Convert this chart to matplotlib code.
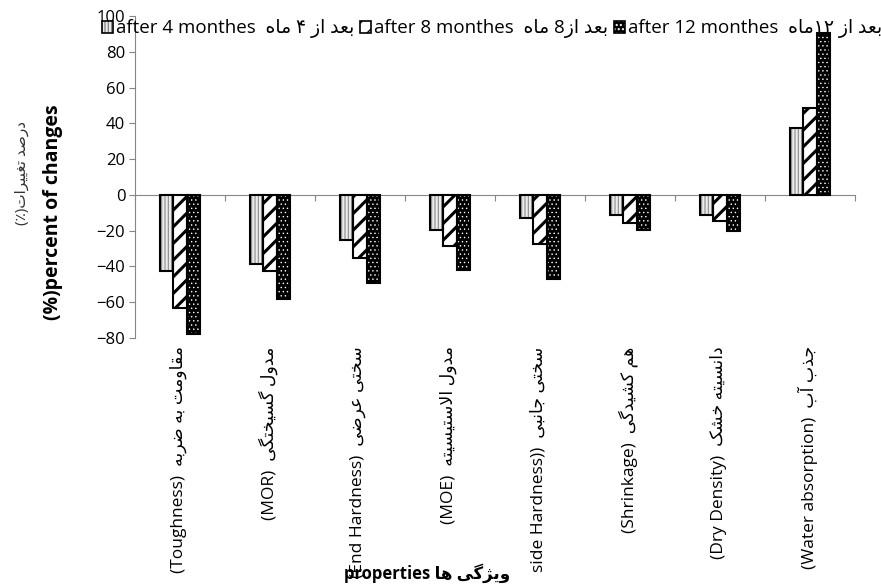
import re
import matplotlib
matplotlib.use("Agg")
import matplotlib.pyplot as plt
from matplotlib.patches import Patch
from matplotlib.legend_handler import HandlerTuple

plt.rcParams['font.family'] = ['Open Sans', 'DejaVu Sans']

# ---------------- data ----------------
categories_en = ["(Toughness)", "(MOR)", "(End Hardness)", "(MOE)",
                 "side Hardness))", "(Shrinkage)", "(Dry Density)", "(Water absorption)"]
categories_fa = ["مقاومت به ضربه", "مدول گسیختگی", "سختی عرضی", "مدول الاستیسیته",
                 "سختی جانبی", "هم کشیدگی", "دانسیته خشک", "جذب آب"]
after_4 = [-42.5, -38.8, -25.4, -19.6, -12.7, -11.2, -11.2, 37.4]
after_8 = [-63.4, -42.3, -35.2, -28.5, -27.4, -15.9, -14.3, 48.4]
after_12 = [-77.8, -58.2, -49.4, -42.0, -47.0, -19.6, -20.0, 90.5]
series_en = ["after 4 monthes", "after 8 monthes", "after 12 monthes"]
series_fa = ["بعد از ۴ ماه", "بعد از8 ماه", "بعد از ۱۲ماه"]
y_ticks = [-80, -60, -40, -20, 0, 20, 40, 60, 80, 100]
ylabel_en = "(%)percent of changes"
ylabel_fa = "درصد تغییرات(٪)"
xlabel_en = "properties"
xlabel_fa = "ویژگی ها"

# ------------- simple Persian shaping (presentation forms, visual order) -------------
FORMS = {
    'ا': (0xFE8D, 0xFE8E, None, None), 'آ': (0xFE81, 0xFE82, None, None),
    'ب': (0xFE8F, 0xFE90, 0xFE91, 0xFE92), 'ت': (0xFE95, 0xFE96, 0xFE97, 0xFE98),
    'ج': (0xFE9D, 0xFE9E, 0xFE9F, 0xFEA0), 'خ': (0xFEA5, 0xFEA6, 0xFEA7, 0xFEA8),
    'د': (0xFEA9, 0xFEAA, None, None), 'ذ': (0xFEAB, 0xFEAC, None, None),
    'ر': (0xFEAD, 0xFEAE, None, None), 'ز': (0xFEAF, 0xFEB0, None, None),
    'ژ': (0xFB8A, 0xFB8B, None, None),
    'س': (0xFEB1, 0xFEB2, 0xFEB3, 0xFEB4), 'ش': (0xFEB5, 0xFEB6, 0xFEB7, 0xFEB8),
    'ص': (0xFEB9, 0xFEBA, 0xFEBB, 0xFEBC), 'ض': (0xFEBD, 0xFEBE, 0xFEBF, 0xFEC0),
    'ع': (0xFEC9, 0xFECA, 0xFECB, 0xFECC), 'غ': (0xFECD, 0xFECE, 0xFECF, 0xFED0),
    'ق': (0xFED5, 0xFED6, 0xFED7, 0xFED8),
    'ک': (0xFB8E, 0xFB8F, 0xFB90, 0xFB91), 'ك': (0xFED9, 0xFEDA, 0xFEDB, 0xFEDC),
    'گ': (0xFB92, 0xFB93, 0xFB94, 0xFB95),
    'ل': (0xFEDD, 0xFEDE, 0xFEDF, 0xFEE0), 'م': (0xFEE1, 0xFEE2, 0xFEE3, 0xFEE4),
    'ن': (0xFEE5, 0xFEE6, 0xFEE7, 0xFEE8), 'ه': (0xFEE9, 0xFEEA, 0xFEEB, 0xFEEC),
    'و': (0xFEED, 0xFEEE, None, None),
    'ی': (0xFBFC, 0xFBFD, 0xFBFE, 0xFBFF), 'ي': (0xFEF1, 0xFEF2, 0xFEF3, 0xFEF4),
}
LAMALEF = {'ا': (0xFEFB, 0xFEFC), 'آ': (0xFEF5, 0xFEF6)}


def shape(s):
    res, i, n = [], 0, len(s)
    while i < n:
        c = s[i]
        if c not in FORMS:
            res.append(c)
            i += 1
            continue
        prev_join = i > 0 and s[i - 1] in FORMS and FORMS[s[i - 1]][2] is not None
        if c == 'ل' and i + 1 < n and s[i + 1] in LAMALEF:
            lig = LAMALEF[s[i + 1]]
            res.append(chr(lig[1] if prev_join else lig[0]))
            i += 2
            continue
        f = FORMS[c]
        next_join = f[2] is not None and i + 1 < n and s[i + 1] in FORMS
        if prev_join and next_join:
            g = f[3]
        elif prev_join:
            g = f[1]
        elif next_join:
            g = f[2]
        else:
            g = f[0]
        res.append(chr(g))
        i += 1
    return ''.join(res)


def fa(s):
    tokens = re.findall(r'[0-9\u06F0-\u06F9]+|.', shape(s), flags=re.S)
    mirror = {'(': ')', ')': '('}
    return ''.join(mirror.get(t, t) for t in reversed(tokens))


# ---------------- figure ----------------
W, H = 881, 585
fig = plt.figure(figsize=(W / 100, H / 100), dpi=100)
ax = fig.add_axes([135 / W, 1 - 338 / H, 720 / W, (338 - 16.25) / H])

n = len(categories_en)
x = list(range(n))
bw = 0.148

styles = [
    dict(face='#ececec', hatchcolor='#8a8a8a', hatch='|||||', hlw=0.8),
    dict(face='white', hatchcolor='black', hatch='//', hlw=2.2),
    dict(face='black', hatchcolor='white', hatch='....', hlw=0.5),
]
series_vals = [after_4, after_8, after_12]

handles = []
for k, (vals, st) in enumerate(zip(series_vals, styles)):
    xs = [xi + (k - 1) * bw for xi in x]
    with plt.rc_context({'hatch.linewidth': st['hlw']}):
        ax.bar(xs, vals, width=bw, facecolor=st['face'], edgecolor=st['hatchcolor'],
               hatch=st['hatch'], linewidth=0, zorder=2)
        hp = Patch(facecolor=st['face'], edgecolor=st['hatchcolor'], hatch=st['hatch'], linewidth=0)
    ax.bar(xs, vals, width=bw, fill=False, edgecolor='black', linewidth=1.5, zorder=3)
    op = Patch(fill=False, edgecolor='black', linewidth=1.2)
    handles.append((hp, op))

ax.set_xlim(-0.5, n - 0.5)
ax.set_ylim(-80, 100)
ax.set_yticks(y_ticks)
ax.set_xticks([i - 0.5 for i in range(n + 1)])
ax.set_xticklabels([])

gray = '#868686'
for s in ['top', 'right']:
    ax.spines[s].set_visible(False)
ax.spines['bottom'].set_position(('data', 0))
ax.spines['bottom'].set_color(gray)
ax.spines['left'].set_color(gray)
ax.spines['bottom'].set_zorder(1)
ax.tick_params(axis='y', direction='out', length=4, color=gray, labelsize=12, pad=3, labelcolor='black')
ax.tick_params(axis='x', direction='out', length=4, color=gray)

# category labels
for i in range(n):
    ax.annotate(categories_en[i] + "  " + fa(categories_fa[i]),
                xy=(i - 0.02, 0), xycoords=('data', 'axes fraction'),
                xytext=(0, -6), textcoords='offset points',
                rotation=90, ha='center', va='top', fontsize=12.5, annotation_clip=False)

# axis titles
fig.text(53 / W, 1 - 212 / H, ylabel_en, rotation=90, ha='center', va='center',
         fontsize=14, fontweight='bold')
fig.text(22 / W, 1 - 173 / H, fa(ylabel_fa), rotation=90, ha='center', va='center',
         fontsize=11, color='#333333')
fig.text(427 / W, 1 - 573 / H, xlabel_en + " " + fa(xlabel_fa), ha='center', va='center',
         fontsize=12, fontweight='bold')

labels = [series_en[k] + "  " + fa(series_fa[k]) for k in range(3)]
fig.legend(handles, labels, ncol=3, loc='center left',
           bbox_to_anchor=(102 / W, 1 - 29 / H), frameon=False,
           handlelength=0.6, handleheight=0.6, handletextpad=0.15, columnspacing=0.3,
           borderpad=0, borderaxespad=0, fontsize=13.5,
           handler_map={tuple: HandlerTuple(ndivide=1, pad=0)})

fig.savefig("out.png", dpi=100)
